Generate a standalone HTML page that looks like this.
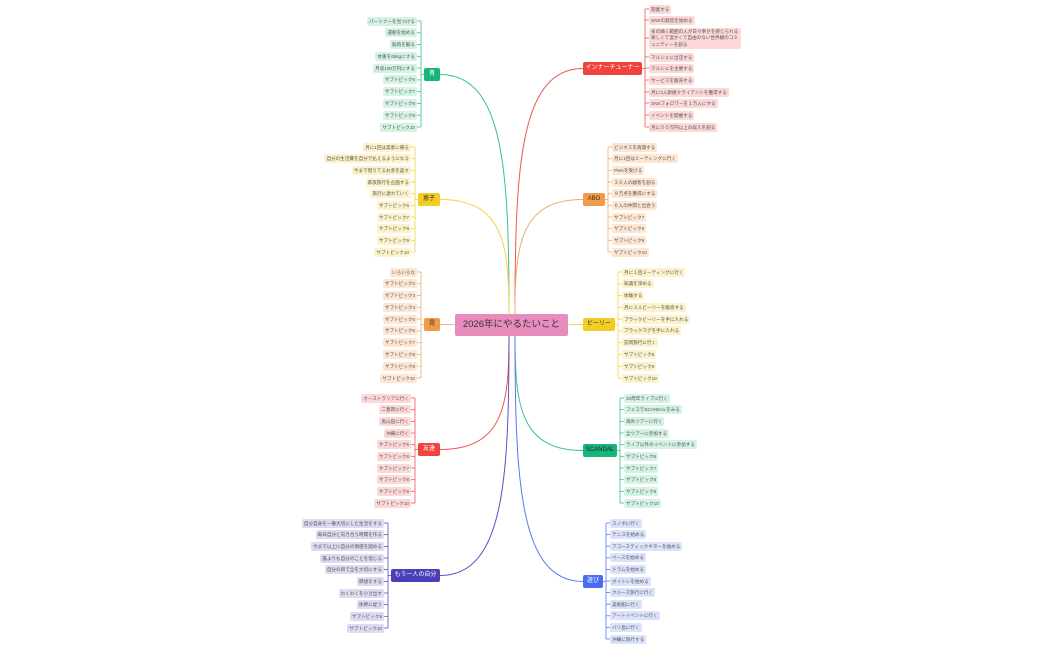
<!DOCTYPE html>
<html><head><meta charset="utf-8"><style>
html,body{margin:0;padding:0;background:#fff;width:1050px;height:650px;overflow:hidden;position:relative;font-family:"Liberation Sans","Noto Sans CJK JP",sans-serif}
.l{position:absolute;height:9px;line-height:9px;font-size:4.6px;color:#555;padding:0 2px;border-radius:2px;white-space:nowrap;box-sizing:border-box}
.b{position:absolute;height:13px;line-height:13px;font-size:6px;color:#fff;text-align:center;border-radius:2px;white-space:nowrap}
svg{position:absolute;left:0;top:0}
</style></head><body>
<svg id="s" width="1050" height="650"></svg>
<div class="b" style="left:455px;top:314px;width:113px;height:22px;line-height:22px;font-size:9.5px;color:#333;background:#e88bbd">2026年にやるたいこと</div>
<div id="c"></div>
<script>
var S=document.getElementById('s'),C=document.getElementById('c'),p='';
function ev(a,b,n){var r=[];for(var i=0;i<n;i++)r.push(a+(b-a)*i/(n-1));return r;}
var B=[
{side:'L',t:'貴',x:424,w:16,y:68,c:'#16b57a',lc:'#3cc38a',bg:'#d4f3e5',tc:'#fff',ys:ev(21,127,10),items:['パートナーを見つける','運動を始める','筋肉を鍛る','体重を65kgにする','月収100万円にする','サブトピック6','サブトピック7','サブトピック8','サブトピック9','サブトピック10']},
{side:'L',t:'恵子',x:418,w:22,y:193,c:'#f2cd24',lc:'#f4d23e',bg:'#fcf2cc',tc:'#333',ys:ev(147,252,10),items:['月に1回は実家に帰る','自分の生活費を自分で払えるようになる','今まで借りてるお金を返す','家族旅行を企画する','旅行に連れていく','サブトピック6','サブトピック7','サブトピック8','サブトピック9','サブトピック10']},
{side:'L',t:'晃',x:424,w:16,y:318,c:'#f29a4a',lc:'#f4ab6a',bg:'#fde6d2',tc:'#333',ys:ev(272,378,10),items:['いろいろな','サブトピック2','サブトピック3','サブトピック4','サブトピック5','サブトピック6','サブトピック7','サブトピック8','サブトピック9','サブトピック10']},
{side:'L',t:'友達',x:418,w:22,y:443,c:'#f0433e',lc:'#f05550',bg:'#fcd9d8',tc:'#fff',ys:ev(398,503,10),items:['オーストラリアに行く','二豊岡に行く','奥山田に行く','沖縄に行く','サブトピック5','サブトピック6','サブトピック7','サブトピック8','サブトピック9','サブトピック10']},
{side:'L',t:'もう一人の自分',x:391,w:49,y:569,c:'#4a3fb8',lc:'#5a50c0',bg:'#dddbf2',tc:'#fff',ys:ev(523,628,10),items:['自分自身を一番大切にした生活をする','毎日自分と向き合う時間を作る','今まで以上に自分の価値を認める','誰よりも自分のことを信じる','自分の目で全を大切にする','瞑想をする','わくわくを小さ出す','体幹に従う','サブトピック9','サブトピック10']},
{side:'R',t:'インナーチューナー',x:583,w:59,y:62,c:'#f0433e',lc:'#f05550',bg:'#fcd9d8',tc:'#fff',ys:[9,20,38,57,68,80,92,103,115,127],items:['開業する','SNSの発信を始める','多の隣く範囲の人が日々幸せを感じられる楽しくて温かくて自由のない世界観のコミュニティーを創る','マルシェに出店する','マルシェを主催する','サービスを販売する','月に3人新規クライアントを獲得する','SNSフォロワーを１万人にする','イベントを開催する','月に５０万円以上の収入を創る']},
{side:'R',t:'ABO',x:583,w:22,y:193,c:'#f29a4a',lc:'#f4ab6a',bg:'#fde6d2',tc:'#333',ys:ev(147,252,10),items:['ビジネスを再開する','月に1回はミーティングに行く','PMAを受ける','２０人の顧客を創る','９万点を獲得にする','６人の仲間と出会う','サブトピック7','サブトピック8','サブトピック9','サブトピック10']},
{side:'R',t:'ビーリー',x:583,w:32,y:318,c:'#f2cd24',lc:'#f4d23e',bg:'#fcf2cc',tc:'#333',ys:ev(272,378,10),items:['月に１回ミーティングに行く','知識を深める','体験する','月に３人ビーリーを販売する','ブラックビーリーを手に入れる','ブラックマグを手に入れる','訪問旅行に行く','サブトピック8','サブトピック9','サブトピック10']},
{side:'R',t:'SCANDAL',x:583,w:34,y:444,c:'#16b57a',lc:'#3cc38a',bg:'#d4f3e5',tc:'#222',ys:ev(398,503,10),items:['20周年ライブに行く','フェスでSCANDALをみる','海外ツアーに行く','全ツアーに参加する','ライブ以外のイベントに参加する','サブトピック6','サブトピック7','サブトピック8','サブトピック9','サブトピック10']},
{side:'R',t:'遊び',x:583,w:20,y:575,c:'#4a6cf0',lc:'#5a78f0',bg:'#dbe2fb',tc:'#fff',ys:ev(523,639,11),items:['スノボに行く','テニスを始める','アコースティックギターを始める','ベースを始める','ドラムを始める','ボイトレを始める','クルーズ旅行に行く','美術館に行く','アートイベントに行く','バリ島に行く','沖縄に旅行する']}
];
B.forEach(function(b){
 var cy=b.y+6.5,d=document.createElement('div');d.className='b';
 d.style.cssText='left:'+b.x+'px;top:'+b.y+'px;width:'+b.w+'px;background:'+b.c+';color:'+b.tc;d.textContent=b.t;C.appendChild(d);
 var ex,vx,lx;
 if(b.side=='L'){ex=b.x+b.w;vx=b.x-3;lx=b.x-7;
  var sx=b.x+b.w,cx=Math.abs(cy-325)<10?455:509,ey=Math.abs(cy-325)<10?325:(cy<325?314:336);
  p+='<path d="M'+sx+','+cy+' C'+(cx-5)+','+cy+' '+cx+','+(cy+(ey-cy)*0.4)+' '+cx+','+ey+'" stroke="'+b.lc+'" fill="none" stroke-width="1"/>';
  p+='<path d="M'+b.x+','+cy+' H'+vx+'" stroke="'+b.lc+'" stroke-width="0.8"/>';
 } else {vx=b.x+b.w+3;lx=vx+4;
  var sx=b.x,cx=Math.abs(cy-325)<10?568:515,ey=Math.abs(cy-325)<10?325:(cy<325?314:336);
  p+='<path d="M'+sx+','+cy+' C'+(cx+5)+','+cy+' '+cx+','+(cy+(ey-cy)*0.4)+' '+cx+','+ey+'" stroke="'+b.lc+'" fill="none" stroke-width="1"/>';
  p+='<path d="M'+(b.x+b.w)+','+cy+' H'+vx+'" stroke="'+b.lc+'" stroke-width="0.8"/>';
 }
 var y0=b.ys[0],y1=b.ys[b.ys.length-1];
 p+='<path d="M'+vx+','+y0+' V'+y1+'" stroke="'+b.lc+'" stroke-width="0.8"/>';
 b.items.forEach(function(t,i){
  var y=b.ys[i],e=document.createElement('div');e.className='l';e.textContent=t;
  var multi=t.length>30&&b.side=='R';
  if(multi){e.style.whiteSpace='normal';e.style.width='92px';e.style.height='21px';e.style.lineHeight='6.5px';e.style.paddingTop='1px';y-=6;}
  e.style.background=b.bg;e.style.top=(y-4.5)+'px';
  if(b.side=='L'){e.style.right=(1050-lx)+'px';}else{e.style.left=lx+'px';}
  C.appendChild(e);
  var yy=b.ys[i];
  p+='<path d="M'+vx+','+yy+' H'+(b.side=='L'?lx:lx)+'" stroke="'+b.lc+'" stroke-width="0.8"/>';
 });
});
S.innerHTML=p;
</script>
</body></html>
